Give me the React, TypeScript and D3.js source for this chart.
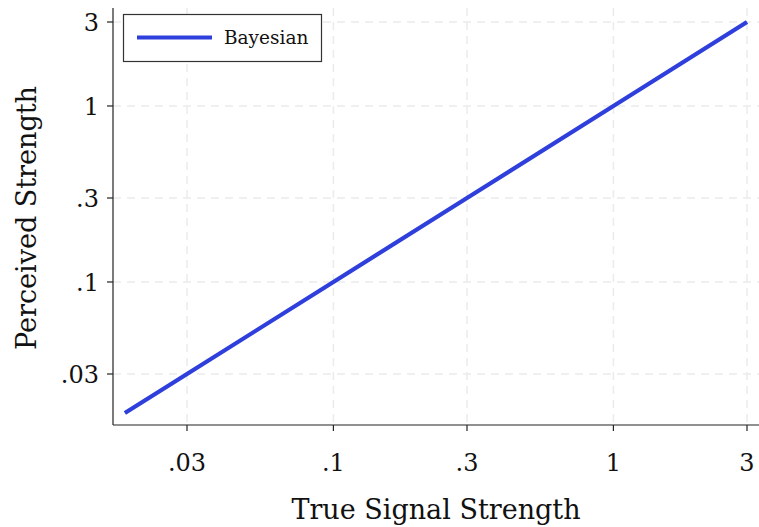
import React from "react";
import * as d3 from "d3";

const xTicks = [0.03, 0.1, 0.3, 1, 3];
const xTickLabels = [".03", ".1", ".3", "1", "3"];
const yTicks = [0.03, 0.1, 0.3, 1, 3];
const yTickLabels = [".03", ".1", ".3", "1", "3"];
const trueSignal = [0.018, 0.03, 0.1, 0.3, 1, 3];
const perceived = [0.018, 0.03, 0.1, 0.3, 1, 3];
const seriesName = "Bayesian";

const W = 759, H = 527;
const FONT = "'DejaVu Serif', serif";

export default function App() {
  const x = d3.scaleLog().domain([0.03, 3]).range([187, 747]);
  const y = d3.scaleLog().domain([0.03, 3]).range([374, 22]);
  const axX = 113, axY = 425, top = 8, right = 759;
  const line = d3.line<number>().x((_, i) => x(trueSignal[i])).y((d) => y(d));
  return (
    <svg width={W} height={H} style={{ position: "absolute", left: 0, top: 0, background: "#fff" }}>
      {/* grid */}
      {xTicks.map((t, i) => (
        <line key={"gx" + i} x1={x(t)} x2={x(t)} y1={top} y2={axY} stroke="#ebebeb" strokeWidth={1.5} strokeDasharray="8,6" />
      ))}
      {yTicks.map((t, i) => (
        <line key={"gy" + i} x1={axX} x2={right} y1={y(t)} y2={y(t)} stroke="#ebebeb" strokeWidth={1.5} strokeDasharray="8,6" />
      ))}
      {/* axes */}
      <line x1={axX} x2={right} y1={axY} y2={axY} stroke="#222" strokeWidth={1.2} />
      <line x1={axX} x2={axX} y1={top} y2={axY} stroke="#222" strokeWidth={1.2} />
      {xTicks.map((t, i) => (
        <g key={"xt" + i}>
          <line x1={x(t)} x2={x(t)} y1={axY} y2={axY + 6} stroke="#222" strokeWidth={1.2} />
          <text x={x(t)} y={471} textAnchor="middle" fontFamily={FONT} fontSize={24} fill="#111">{xTickLabels[i]}</text>
        </g>
      ))}
      {yTicks.map((t, i) => (
        <g key={"yt" + i}>
          <line x1={axX - 6} x2={axX} y1={y(t)} y2={y(t)} stroke="#222" strokeWidth={1.2} />
          <text x={99} y={y(t) + 9} textAnchor="end" fontFamily={FONT} fontSize={24} fill="#111">{yTickLabels[i]}</text>
        </g>
      ))}
      {/* series */}
      <path d={line(perceived) || ""} fill="none" stroke="#2f3fdc" strokeWidth={4.2} />
      {/* legend */}
      <rect x={123.5} y={14.5} width={198} height={47} fill="#fff" stroke="#333" strokeWidth={1.2} />
      <line x1={137} x2={212} y1={37.5} y2={37.5} stroke="#2f3fdc" strokeWidth={4.2} />
      <text x={224} y={44} fontFamily={FONT} fontSize={18.5} fill="#111">{seriesName}</text>
      {/* titles */}
      <text x={436} y={519} textAnchor="middle" fontFamily={FONT} fontSize={27} fill="#111">True Signal Strength</text>
      <text transform="translate(36,218) rotate(-90)" textAnchor="middle" fontFamily={FONT} fontSize={27} fill="#111">Perceived Strength</text>
    </svg>
  );
}
